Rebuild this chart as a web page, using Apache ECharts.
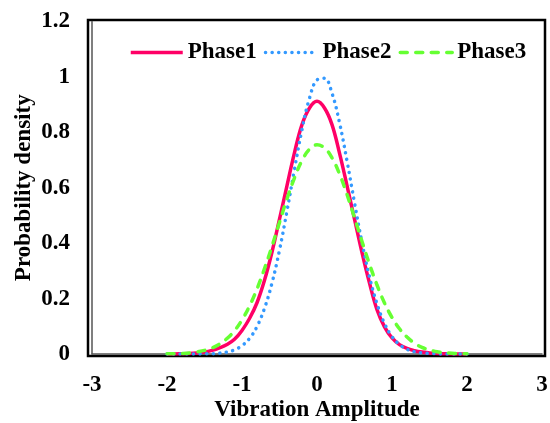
<!DOCTYPE html>
<html>
<head>
<meta charset="utf-8">
<script src="https://cdn.jsdelivr.net/npm/echarts@6/dist/echarts.min.js"></script>
<style>
html,body{margin:0;padding:0;background:#fff;}
#chart{width:550px;height:423px;}
</style>
</head>
<body>
<div id="chart"></div>
<script>
// x positions (Vibration Amplitude)
var xs = [-2.0,-1.9,-1.8,-1.7,-1.6,-1.5,-1.4,-1.3,-1.2,-1.1,-1.0,-0.9,-0.8,-0.7,-0.6,-0.5,-0.4,-0.3,-0.2,-0.1,0.0,
          0.1,0.2,0.3,0.4,0.5,0.6,0.7,0.8,0.9,1.0,1.1,1.2,1.3,1.4,1.5,1.6,1.7,1.8,1.9,2.0];
var phase1 = [0.000,0.000,0.001,0.002,0.004,0.007,0.013,0.022,0.034,0.053,0.085,0.128,0.185,0.266,0.368,0.487,0.608,0.727,0.828,0.888,0.912,
              0.888,0.828,0.725,0.608,0.487,0.366,0.256,0.160,0.098,0.058,0.034,0.020,0.012,0.007,0.004,0.002,0.001,0.000,0.000,0.000];
var phase2 = [0.000,0.000,0.000,0.000,0.000,0.001,0.001,0.003,0.007,0.015,0.030,0.056,0.099,0.165,0.256,0.375,0.516,0.667,0.810,0.923,0.989,
              0.995,0.941,0.835,0.697,0.546,0.402,0.278,0.181,0.110,0.063,0.034,0.017,0.008,0.004,0.002,0.001,0.000,0.000,0.000,0.000];
var phase3 = [0.001,0.001,0.002,0.004,0.008,0.013,0.022,0.036,0.056,0.084,0.123,0.173,0.235,0.308,0.389,0.475,0.560,0.636,0.698,0.739,0.755,
              0.744,0.708,0.650,0.576,0.492,0.406,0.324,0.249,0.184,0.132,0.091,0.061,0.039,0.024,0.015,0.008,0.005,0.003,0.001,0.001];
var seriesNames = ['Phase1','Phase2','Phase3'];
var xTicks = [-3,-2,-1,0,1,2,3];
var yTicks = [0,0.2,0.4,0.6,0.8,1,1.2];

function pairs(ys){ return xs.map(function(x,i){ return [x, ys[i]]; }); }

var FONT = 'Liberation Serif';
var FS = 23;
var chart = echarts.init(document.getElementById('chart'), null, {renderer:'canvas'});
chart.setOption({
  animation:false,
  backgroundColor:'#fff',
  grid:[
    {left:92, right:8, top:21.5, bottom:69, show:false, containLabel:false, outerBoundsMode:'none'},
    {left:88, right:5, top:20, bottom:67, show:true, borderColor:'#000', borderWidth:2.5, backgroundColor:'transparent', containLabel:false, outerBoundsMode:'none'}
  ],
  legend:{
    top:36, left:124,
    itemWidth:52, itemHeight:14, itemGap:7,
    itemStyle:{opacity:0},
    lineStyle:{width:3.5},
    textStyle:{fontFamily:FONT, fontWeight:'bold', fontSize:FS, color:'#000'},
    data:seriesNames
  },
  xAxis:[{
    gridIndex:0, type:'value',
    min:xTicks[0], max:xTicks[xTicks.length-1], interval:1,
    name:'Vibration Amplitude', nameLocation:'middle', nameGap:45, nameMoveOverlap:false,
    nameTextStyle:{fontFamily:FONT, fontWeight:'bold', fontSize:FS, color:'#000'},
    axisLine:{show:true, onZero:false, lineStyle:{color:'#555', width:1.5}},
    axisTick:{show:false},
    splitLine:{show:false},
    axisLabel:{fontFamily:FONT, fontWeight:'bold', fontSize:FS, color:'#000', margin:20}
  },{
    gridIndex:1, type:'value', show:false, min:0, max:1
  }],
  yAxis:[{
    gridIndex:0, type:'value',
    min:yTicks[0], max:yTicks[yTicks.length-1], interval:0.2,
    name:'Probability density', nameLocation:'middle', nameGap:56, nameMoveOverlap:false,
    nameTextStyle:{fontFamily:FONT, fontWeight:'bold', fontSize:FS, color:'#000'},
    axisLine:{show:true, onZero:false, lineStyle:{color:'#555', width:1.5}},
    axisTick:{show:false},
    splitLine:{show:false},
    axisLabel:{fontFamily:FONT, fontWeight:'bold', fontSize:FS, color:'#000', margin:22}
  },{
    gridIndex:1, type:'value', show:false, min:0, max:1
  }],
  series:[
    {name:seriesNames[0], type:'line', xAxisIndex:0, yAxisIndex:0, data:pairs(phase1), smooth:0.4,
     showSymbol:false, symbol:'none', color:'#FF0066',
     lineStyle:{color:'#FF0066', width:3.5}},
    {name:seriesNames[1], type:'line', xAxisIndex:0, yAxisIndex:0, data:pairs(phase2), smooth:0.4,
     showSymbol:false, symbol:'none', color:'#3399FF',
     lineStyle:{color:'#3399FF', width:3.5, type:[0.1,6.5], cap:'round'}},
    {name:seriesNames[2], type:'line', xAxisIndex:0, yAxisIndex:0, data:pairs(phase3), smooth:0.4,
     showSymbol:false, symbol:'none', color:'#66FF33',
     lineStyle:{color:'#66FF33', width:3.5, type:[7,8.5], cap:'round'}}
  ]
});
</script>
</body>
</html>
